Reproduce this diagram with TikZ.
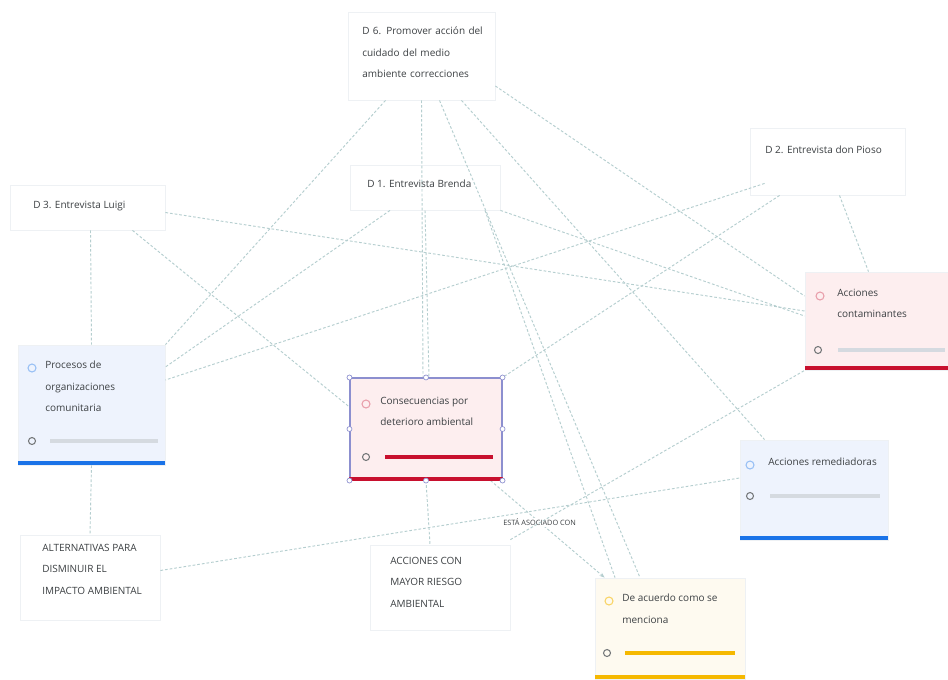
\documentclass[tikz,border=0pt]{standalone}
\usepackage{fontspec}
\setmainfont{Open Sans}
\usetikzlibrary{calc,arrows.meta}
\definecolor{edgec}{HTML}{B5CECF}
\definecolor{bordc}{HTML}{EEF1F4}
\definecolor{txtc}{HTML}{3C4043}
\definecolor{bluef}{HTML}{EEF3FD}
\definecolor{pinkf}{HTML}{FDEEEF}
\definecolor{yelf}{HTML}{FEFAF0}
\definecolor{blueb}{HTML}{1A73E8}
\definecolor{redb}{HTML}{C8102E}
\definecolor{yelb}{HTML}{F5B800}
\definecolor{greyb}{HTML}{D5DAE0}
\definecolor{selc}{HTML}{8C8FCF}
\begin{document}
\begin{tikzpicture}[x=0.75pt,y=-0.75pt,
  bx/.style 2 args={draw=bordc, line width=0.6pt, minimum width={#1*0.75pt}, minimum height={#2*0.75pt}, inner sep=0pt},
  edge/.style={draw=edgec, line width=0.7pt, dash pattern=on 2pt off 1.5pt},
  txt/.style={text=txtc, font=\fontsize{7.5}{16}\selectfont, align=left, inner sep=0pt, anchor=north west},
  icon/.style={line width=0.8pt},
  handle/.style={draw=selc, fill=white, line width=0.5pt}
]
\useasboundingbox (0,0) rectangle (948,679);
\fill[white] (0,0) rectangle (948,679);

% boxes
\node[bx={147}{88}, fill=white] (d6) at (421.5,56) {};
\node[bx={150}{45}, fill=white] (d1) at (425,187.5) {};
\node[bx={155}{67}, fill=white] (d2) at (827.5,161.5) {};
\node[bx={155}{45}, fill=white] (d3) at (87.5,207.5) {};
\node[bx={147}{120}, fill=bluef] (proc) at (91.5,405) {};
\node[bx={152}{102}, fill=pinkf, draw=selc, line width=0.8pt] (cons) at (426,429) {};
\node[bx={143}{98}, fill=pinkf] (acont) at (876.5,321) {};
\node[bx={148}{100}, fill=bluef] (arem) at (814,490) {};
\node[bx={150}{101}, fill=yelf] (deac) at (670,628.5) {};
\node[bx={140}{85}, fill=white] (alt) at (90,577.5) {};
\node[bx={140}{85}, fill=white] (acc) at (440,587.5) {};

% connectors
\draw[edge] (d6.south) -- ($(cons.north)+(-3,0)$);
\draw[edge] (d1.south) -- ($(cons.north)+(3,0)$);
\draw[edge] ($(d6.south)+(-36,0)$) -- (proc.north east);
\draw[edge] ($(d6.east)+(0,30)$) -- ($(acont.west)+(0,-25)$);
\draw[edge] ($(d6.south)+(18,0)$) -- ($(deac.north)+(-30,0)$);
\draw[edge] ($(d6.south)+(40,0)$) -- ($(arem.north west)+(25,0)$);
\draw[edge] ($(d1.south)+(-35,0)$) -- ($(proc.east)+(0,-38)$);
\draw[edge] (d1.south east) -- ($(acont.west)+(0,-5)$);
\draw[edge] ($(d1.south)+(60,0)$) -- ($(deac.north)+(-55,0)$);
\draw[edge] ($(d2.south)+(12,0)$) -- ($(acont.north)+(-8,0)$);
\draw[edge] ($(d2.south west)+(15,-12)$) -- ($(proc.east)+(0,-25)$);
\draw[edge] ($(d2.south west)+(30,0)$) -- (cons.north east);
\draw[edge] ($(d3.south)+(3,0)$) -- ($(proc.north)+(0,0)$);
\draw[edge] ($(d3.south)+(45,0)$) -- ($(cons.west)+(0,-22)$);
\draw[edge] ($(d3.east)+(0,5)$) -- ($(acont.west)+(0,-10)$);
\draw[edge] (proc.south) -- (alt.north);
\draw[edge] (cons.south) -- ($(acc.north)+(-10,0)$);
\draw[edge, -{Stealth[length=4pt,width=3pt]}] ($(cons.south east)+(-12,0)$) -- node[pos=0.43, fill=white, inner sep=1pt, text=txtc, font=\fontsize{5.5}{6}\selectfont] {ESTÁ ASOCIADO CON} ($(deac.north west)+(10,0)$);
\draw[edge] ($(alt.east)+(0,-7)$) -- ($(arem.west)+(0,-12)$);
\draw[edge] ($(acc.north east)+(0,-5)$) -- (acont.south west);

% bottom bars
\fill[blueb] ($(proc.south west)+(0,-4)$) rectangle (proc.south east);
\fill[redb] ($(cons.south west)+(0,-4)$) rectangle (cons.south east);
\fill[redb] ($(acont.south west)+(0,-4)$) rectangle (acont.south east);
\fill[blueb] ($(arem.south west)+(0,-4)$) rectangle (arem.south east);
\fill[yelb] ($(deac.south west)+(0,-4)$) rectangle (deac.south east);

% selection handles on cons
\foreach \a in {north west,north,north east,east,south east,south,south west,west}
  \draw[handle] (cons.\a) circle (2.5);

% icons and progress rows
\draw[icon, draw=blueb!45] (32,368) circle (4);
\draw[line width=0.8pt, draw=txtc!70] (32,441) circle (3.5);
\draw[line width=3pt, draw=greyb] (50,441) -- (158,441);

\draw[icon, draw=redb!40] (366,404) circle (4);
\draw[line width=0.8pt, draw=txtc!70] (366,457) circle (3.5);
\draw[line width=3.5pt, draw=redb] (385,457) -- (493,457);

\draw[icon, draw=redb!40] (820,296) circle (4);
\draw[line width=0.8pt, draw=txtc!70] (818,350) circle (3.5);
\draw[line width=3pt, draw=greyb] (838,350) -- (945,350);

\draw[icon, draw=blueb!45] (750,465) circle (4);
\draw[line width=0.8pt, draw=txtc!70] (750,496) circle (3.5);
\draw[line width=3pt, draw=greyb] (770,496) -- (880,496);

\draw[icon, draw=yelb!60] (609,601) circle (4);
\draw[line width=0.8pt, draw=txtc!70] (607,653) circle (3.5);
\draw[line width=3.5pt, draw=yelb] (625,653) -- (735,653);

% texts
\node[txt, text width=125pt] (t6) at (362,27) {D 6. Promover acción del\\cuidado del medio\\ambiente correcciones};
\node[txt] (t1) at (367,180) {D 1. Entrevista Brenda};
\node[txt] (t2) at (765,146) {D 2. Entrevista don Pioso};
\node[txt] (t3) at (33,201) {D 3. Entrevista Luigi};
\node[txt] (tp) at (45,361) {Procesos de\\organizaciones\\comunitaria};
\node[txt] (tc) at (380,397) {Consecuencias por\\deterioro ambiental};
\node[txt] (ta) at (837,289) {Acciones\\contaminantes};
\node[txt] (tr) at (768,458) {Acciones remediadoras};
\node[txt] (td) at (622,594) {De acuerdo como se\\menciona};
\node[txt] (tl) at (42,544) {ALTERNATIVAS PARA\\DISMINUIR EL\\IMPACTO AMBIENTAL};
\node[txt] (tk) at (390,557) {ACCIONES CON\\MAYOR RIESGO\\AMBIENTAL};
\end{tikzpicture}
\end{document}
